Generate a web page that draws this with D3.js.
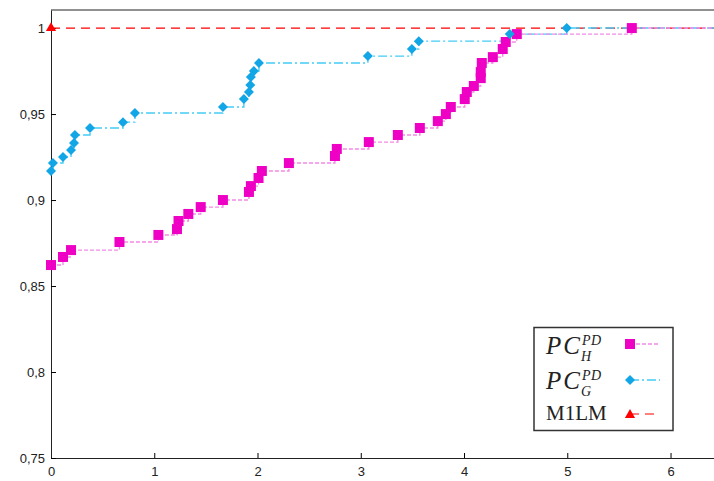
<!DOCTYPE html>
<html lang="en">
<head>
<meta charset="UTF-8">
<script src="https://cdnjs.cloudflare.com/ajax/libs/d3/7.8.5/d3.min.js"></script>
<title>PC curves</title>
<style>
  body { margin: 0; background: #fff; }
  .axis text { font-family: "Liberation Sans", Arial, sans-serif; font-size: 13px; fill: #222; }
</style>
</head>
<body>
<script>

// data
let pcH_x = [0, 0.116, 0.194, 0.663, 1.04, 1.22, 1.235, 1.33, 1.45, 1.665, 1.917, 1.936, 2.01, 2.042,
             2.304, 2.75, 2.768, 3.078, 3.359, 3.572, 3.746, 3.824, 3.872, 4.007, 4.027, 4.095, 4.162,
             4.162, 4.172, 4.279, 4.375, 4.404, 4.511, 5.625];
let pcH_y = [0.8622, 0.8669, 0.8709, 0.8756, 0.8797, 0.8831, 0.8878, 0.8919, 0.8959, 0.9000,
             0.9047, 0.9081, 0.9128, 0.9169, 0.9215, 0.9256, 0.9297, 0.9337, 0.9378, 0.9419,
             0.9459, 0.9500, 0.9541, 0.9587, 0.9628, 0.9663, 0.9709, 0.9744, 0.9797, 0.9831,
             0.9878, 0.9919, 0.9965, 1.0];
let pcG_x = [0, 0.019, 0.116, 0.194, 0.223, 0.232, 0.378, 0.697, 0.813, 1.665, 1.868, 1.917, 1.93,
             1.936, 1.965, 2.014, 3.069, 3.495, 3.562, 4.443, 4.995];
let pcG_y = [0.9169, 0.9215, 0.925, 0.9291, 0.9331, 0.9378, 0.9419, 0.9453, 0.9506, 0.9541,
             0.9587, 0.9628, 0.9669, 0.9715, 0.975, 0.9797, 0.9837, 0.9878, 0.9924, 0.9965, 1.0];
let m1lm_x = [0];
let m1lm_y = [1.0];

let xTicks = [0, 1, 2, 3, 4, 5, 6];
let yTicks = [0.75, 0.8, 0.85, 0.9, 0.95, 1];

let W = 714, H = 481;
let plotL = 51, plotT = 10, plotB = 458, plotR = 717;

let x = d3.scaleLinear().domain([0, 6.45]).range([plotL, plotR]);
let y = d3.scaleLinear().domain([0.75, 1.0105]).range([plotB, plotT]);

let svg = d3.select("body").append("svg")
    .attr("width", W).attr("height", H);

svg.append("defs").append("clipPath").attr("id", "plot")
    .append("rect").attr("x", plotL).attr("y", plotT)
    .attr("width", plotR - plotL).attr("height", plotB - plotT);

let comma = d => String(d).replace(".", ",");

// axes, ticks pointing inward
svg.append("g").attr("class", "axis")
    .attr("transform", "translate(0," + plotB + ")")
    .call(d3.axisBottom(x).tickValues(xTicks).tickFormat(comma)
        .tickSizeInner(-5).tickSizeOuter(0).tickPadding(9))
    .call(g => g.select(".domain").attr("stroke", "#222"));

svg.append("g").attr("class", "axis")
    .attr("transform", "translate(" + plotL + ",0)")
    .call(d3.axisLeft(y).tickValues(yTicks).tickFormat(comma)
        .tickSizeInner(-5).tickSizeOuter(0).tickPadding(6))
    .call(g => g.select(".domain").attr("stroke", "#222"));

// top frame line
svg.append("line").attr("x1", plotL).attr("x2", plotR).attr("y1", plotT).attr("y2", plotT)
    .attr("stroke", "#222");

let series = [
    {xs: m1lm_x, ys: m1lm_y, line: "#ff0000", dash: "9,6", width: 1.2, mark: "#ff0000",
     sym: d3.symbolTriangle, size: 45, rot: 0},
    {xs: pcG_x, ys: pcG_y, line: "#44ccf6", dash: "9,3,2,3", width: 1.4, mark: "#12a6e6",
     sym: d3.symbolSquare, size: 50, rot: 45},
    {xs: pcH_x, ys: pcH_y, line: "#f48ae6", dash: "4,2", width: 1.4, mark: "#ee00c4",
     sym: d3.symbolSquare, size: 100, rot: 0}
];

let stepLine = d3.line().x(d => x(d[0])).y(d => y(d[1])).curve(d3.curveStepAfter);

series.forEach(function(s) {
    let pts = s.xs.map((v, i) => [v, s.ys[i]]);
    let ext = pts.concat([[x.domain()[1], s.ys[s.ys.length - 1]]]);
    svg.append("path").datum(ext)
        .attr("clip-path", "url(#plot)")
        .attr("fill", "none").attr("stroke", s.line)
        .attr("stroke-width", s.width).attr("stroke-dasharray", s.dash)
        .attr("d", stepLine);
});

series.slice().reverse().forEach(function(s) {
    let pts = s.xs.map((v, i) => [v, s.ys[i]]);
    svg.append("g").selectAll("path").data(pts).enter().append("path")
        .attr("d", d3.symbol().type(s.sym).size(s.size))
        .attr("fill", s.mark)
        .attr("transform", d => "translate(" + x(d[0]) + "," + y(d[1]) + ") rotate(" + s.rot + ")");
});

// legend
let lg = svg.append("g");
lg.append("rect").attr("x", 534).attr("y", 327.5).attr("width", 139).attr("height", 103)
    .attr("fill", "#fff").attr("stroke", "#333").attr("stroke-width", 1.5);

let rows = [
    {s: series[2], yMark: 344, base: 354, sub: "H"},
    {s: series[1], yMark: 380, base: 389, sub: "G"},
    {s: series[0], yMark: 414, base: 420, sub: null}
];

rows.forEach(function(r) {
    lg.append("line").attr("x1", 630).attr("x2", 660).attr("y1", r.yMark).attr("y2", r.yMark)
        .attr("stroke", r.s.line).attr("stroke-width", r.s.width).attr("stroke-dasharray", r.s.dash);
    lg.append("path").attr("d", d3.symbol().type(r.s.sym).size(r.s.size))
        .attr("fill", r.s.mark)
        .attr("transform", "translate(630," + (r.yMark + (r.sub ? 0 : 1)) + ") rotate(" + r.s.rot + ")");
    if (r.sub) {
        let t = lg.append("text").attr("x", 546).attr("y", r.base)
            .style("font-family", "'Liberation Serif', serif").style("font-style", "italic")
            .style("font-size", "25px").style("letter-spacing", "2px").attr("fill", "#222")
            .text("PC");
        let w = t.node().getComputedTextLength();
        lg.append("text").attr("x", 546 + w).attr("y", r.base - 9)
            .style("font-family", "'Liberation Serif', serif").style("font-style", "italic")
            .style("font-size", "14px").style("letter-spacing", "0.5px").attr("fill", "#222").text("PD");
        lg.append("text").attr("x", 546 + w - 1).attr("y", r.base + 7)
            .style("font-family", "'Liberation Serif', serif").style("font-style", "italic")
            .style("font-size", "14px").attr("fill", "#222").text(r.sub);
    } else {
        lg.append("text").attr("x", 546).attr("y", r.base)
            .style("font-family", "'Liberation Serif', serif")
            .style("font-size", "21px").attr("fill", "#222").text("M1LM");
    }
});

</script>
</body>
</html>
